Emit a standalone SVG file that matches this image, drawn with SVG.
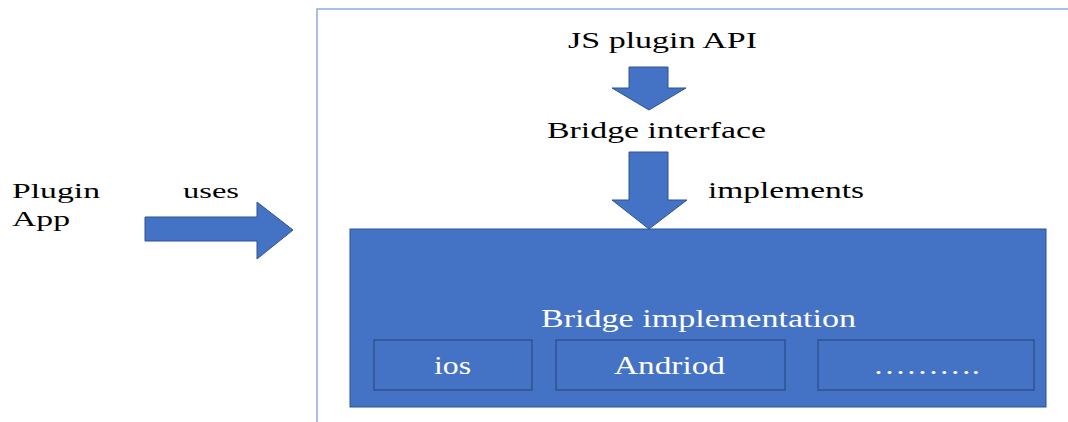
<svg xmlns="http://www.w3.org/2000/svg" width="1068" height="422" viewBox="0 0 1068 422">
<style>
.t{font-family:"Liberation Serif","Times New Roman",serif;fill:#000;}
.w{font-family:"Liberation Serif","Times New Roman",serif;fill:#fff;}
.arrow{fill:#4472c4;stroke:#2f528f;stroke-width:1;}
.box{fill:none;stroke:#2f528f;stroke-width:1.5;}
</style>
<rect width="1068" height="422" fill="#fff"/>
<g id="frame">
<path d="M317,422 V9 H1068" fill="none" stroke="#8faadc" stroke-width="1.5"/>
</g>
<g id="plugin-app">
<text class="t" x="12" y="198" font-size="22" textLength="88" lengthAdjust="spacingAndGlyphs">Plugin</text>
<text class="t" x="12" y="226" font-size="22" textLength="58" lengthAdjust="spacingAndGlyphs">App</text>
</g>
<g id="js-api">
<text class="t" x="568" y="48" font-size="24" textLength="189" lengthAdjust="spacingAndGlyphs">JS plugin API</text>
</g>
<g id="bridge-interface">
<text class="t" x="547" y="138" font-size="23" textLength="219" lengthAdjust="spacingAndGlyphs">Bridge interface</text>
</g>
<g id="bridge-implementation">
<rect x="350" y="229" width="696" height="178" fill="#4472c4" stroke="#2f528f" stroke-width="1"/>
<text class="w" x="541" y="327" font-size="25" textLength="315" lengthAdjust="spacingAndGlyphs">Bridge implementation</text>
</g>
<g id="ios">
<rect class="box" x="374" y="340" width="158" height="50"/>
<text class="w" x="434" y="374" font-size="25" textLength="37" lengthAdjust="spacingAndGlyphs">ios</text>
</g>
<g id="android">
<rect class="box" x="556" y="340" width="229" height="50"/>
<text class="w" x="614" y="374" font-size="25" textLength="111" lengthAdjust="spacingAndGlyphs">Andriod</text>
</g>
<g id="others">
<rect class="box" x="818" y="340" width="216" height="50"/>
<text class="w" x="873" y="374" font-size="25" textLength="107" lengthAdjust="spacingAndGlyphs">……….</text>
</g>
<g id="connectors">
<path class="arrow" d="M145,217 H257 V202 L293,230 L257,259 V241 H145 Z"/>
<text class="t" x="183" y="198" font-size="22" textLength="56" lengthAdjust="spacingAndGlyphs">uses</text>
<path class="arrow" d="M629,67 H668 V88 H686 L649,110 L612,88 H629 Z"/>
<path class="arrow" d="M629,152 H668 V200 H687 L649,229 L612,200 H629 Z"/>
<text class="t" x="708" y="198" font-size="23" textLength="156" lengthAdjust="spacingAndGlyphs">implements</text>
</g>
</svg>
